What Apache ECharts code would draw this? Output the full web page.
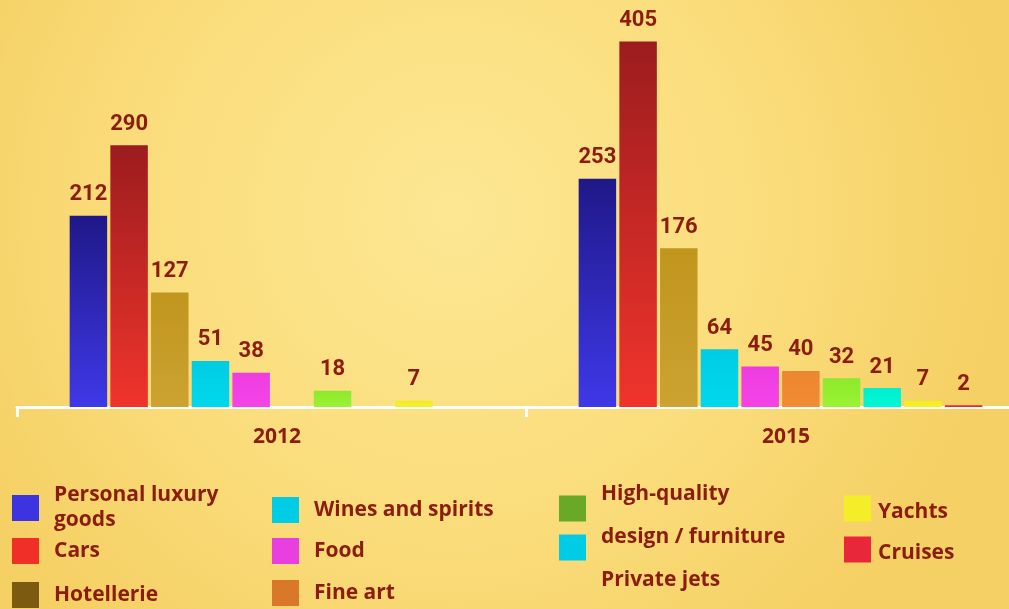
<!DOCTYPE html>
<html>
<head>
<meta charset="utf-8">
<script src="https://cdn.jsdelivr.net/npm/echarts@6/dist/echarts.min.js"></script>
<style>
  html, body { margin: 0; padding: 0; }
  #chart { width: 1009px; height: 609px; }
</style>
</head>
<body>
<div id="chart"></div>
<script>
// data
const categories = ['2012', '2015']
const seriesNames = [
  'Personal luxury goods', 'Cars', 'Hotellerie', 'Wines and spirits', 'Food',
  'Fine art', 'High-quality design / furniture', 'Private jets', 'Yachts', 'Cruises'
]
const values2012 = [212, 290, 127, 51, 38, null, 18, null, 7, null]
const values2015 = [253, 405, 176, 64, 45, 40, 32, 21, 7, 2]

// bar colours: [top, bottom]
const barColors = [
  ['#1f1888', '#3f38e8'],
  ['#9c1c1e', '#f0342c'],
  ['#c0961e', '#cca232'],
  ['#00cce4', '#00d8ec'],
  ['#ee3ce0', '#f444e6'],
  ['#ec8630', '#f08c34'],
  ['#8ee82c', '#9af434'],
  ['#00f0d0', '#00f6d4'],
  ['#f2ec22', '#f6f02a'],
  ['#e8283a', '#e8283a']
]
// legend swatches (some differ from the bars in the original)
const legendColors = [
  '#3c34e0', '#f03028', '#7c5a10', '#00cce6', '#e840e0',
  '#d87828', '#6aa828', '#00cce6', '#f4ee28', '#e8283a'
]

const textColor = '#8b1c0e'
const labelFont = "Roboto, 'Liberation Sans', sans-serif"
const legendFont = "'Open Sans', 'Noto Sans', sans-serif"

// legend layout: one small legend per entry
// pad = [top, bottom] shift of the text against its swatch
const legendLayout = [
  { left: 12, top: 485, lines: ['Personal luxury', 'goods'], pad: [0, 0], lh: 25 },
  { left: 12, top: 538, lines: ['Cars'], pad: [0, 0], lh: 24 },
  { left: 12, top: 582, lines: ['Hotellerie'], pad: [0, 0], lh: 24 },
  { left: 272, top: 497, lines: ['Wines and spirits'], pad: [0, 0], lh: 24 },
  { left: 272, top: 538, lines: ['Food'], pad: [0, 0], lh: 24 },
  { left: 272, top: 580, lines: ['Fine art'], pad: [0, 0], lh: 24 },
  { left: 559, top: 484, lines: ['High-quality'], pad: [0, 28], lh: 24 },
  { left: 559, top: 527, lines: ['design / furniture'], pad: [0, 20], lh: 24 },
  { left: 844, top: 494, lines: ['Yachts'], pad: [8, 0], lh: 24 },
  { left: 844, top: 535, lines: ['Cruises'], pad: [8, 0], lh: 24 }
]

const chart = echarts.init(document.getElementById('chart'))

const series = seriesNames.map((name, i) => ({
  name,
  type: 'bar',
  barWidth: 37.5,
  barGap: '8.5%',
  data: [values2012[i], values2015[i]],
  itemStyle: {
    color: {
      type: 'linear', x: 0, y: 0, x2: 0, y2: 1,
      colorStops: [
        { offset: 0, color: barColors[i][0] },
        { offset: 1, color: barColors[i][1] }
      ]
    }
  },
  label: {
    show: true,
    position: 'top',
    distance: 10,
    color: textColor,
    fontFamily: labelFont,
    fontWeight: 'bold',
    fontSize: 22
  }
}))

const legends = legendLayout.map((l, i) => ({
  data: [{ name: seriesNames[i], itemStyle: { color: legendColors[i] } }],
  left: l.left,
  top: l.top,
  padding: 0,
  itemWidth: 27,
  itemHeight: 26,
  selectedMode: false,
  icon: 'rect',
  formatter: () => l.lines.map(t => '{t|' + t + '}').join('\n'),
  textStyle: {
    color: textColor,
    fontFamily: legendFont,
    fontWeight: 'bold',
    fontSize: 21,
    rich: {
      t: {
        color: textColor,
        fontFamily: legendFont,
        fontWeight: 'bold',
        fontSize: 21,
        lineHeight: l.lh,
        padding: [l.pad[0], 0, l.pad[1], i >= 8 ? 2 : 10]
      }
    }
  }
}))

const option = {
  backgroundColor: {
    type: 'radial', x: 0.45, y: 0.35, r: 0.9,
    colorStops: [
      { offset: 0, color: '#fde793' },
      { offset: 0.6, color: '#fadc7a' },
      { offset: 1, color: '#f5d064' }
    ]
  },
  animation: false,
  grid: { left: 17, top: 1, width: 1018, height: 406, outerBoundsMode: 'none' },
  legend: legends,
  xAxis: {
    type: 'category',
    data: categories,
    axisLine: { lineStyle: { color: '#ffffff', width: 3 } },
    axisTick: { show: true, length: 10, lineStyle: { color: '#ffffff', width: 3 } },
    axisLabel: {
      margin: 20,
      formatter: '{t|{value}}',
      rich: {
        t: {
          color: textColor,
          fontFamily: legendFont,
          fontWeight: 'bold',
          fontSize: 21,
          padding: [0, 0, 0, 11]
        }
      }
    }
  },
  yAxis: {
    type: 'value',
    min: 0,
    max: 450,
    show: false,
    splitLine: { show: false }
  },
  graphic: [{
    type: 'text',
    left: 601,
    top: 570,
    style: {
      text: 'Private jets',
      fill: textColor,
      font: "bold 21px 'Open Sans', 'Noto Sans', sans-serif"
    }
  }],
  series
}

chart.setOption(option)
</script>
</body>
</html>
